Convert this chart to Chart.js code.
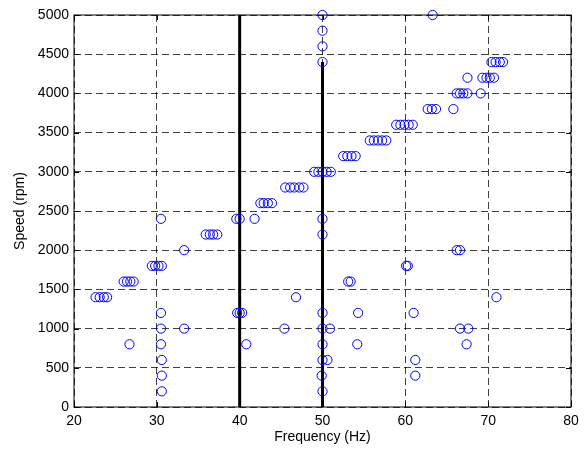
<!DOCTYPE html>
<html>
<head>
<meta charset="utf-8">
<script src="https://cdn.jsdelivr.net/npm/chart.js@4/dist/chart.umd.min.js"></script>
<style>
  body { margin: 0; background: #fff; }
</style>
</head>
<body>
<canvas id="speedChart" width="585" height="450"></canvas>
<script>
// measured points, one line per speed step
var freqHz = [
    30.6, 50.0,
    30.6, 49.9, 61.2,
    30.6, 50.0, 50.6, 61.2,
    26.7, 30.5, 40.8, 50.0, 54.2, 67.4,
    30.5, 33.3, 45.4, 50.0, 50.9, 66.6, 67.6,
    30.5, 39.7, 40.0, 40.3, 50.0, 54.3, 61.0,
    22.6, 23.1, 23.6, 24.0, 46.8, 71.0,
    26.0, 26.4, 26.8, 27.2, 53.1, 53.4,
    29.4, 29.8, 30.2, 30.6, 60.1, 60.3,
    33.3, 66.2, 66.6,
    35.9, 36.4, 36.8, 37.3, 50.0,
    30.5, 39.6, 40.0, 41.8, 50.0,
    42.5, 42.9, 43.4, 43.9,
    45.5, 46.1, 46.6, 47.2, 47.7,
    49.0, 49.5, 50.0, 50.5, 51.0,
    52.5, 53.0, 53.5, 54.0,
    55.7, 56.2, 56.7, 57.2, 57.7,
    58.9, 59.4, 59.9, 60.4, 60.9,
    62.7, 63.2, 63.7, 65.8,
    66.2, 66.6, 67.0, 67.5, 69.1,
    67.5, 69.3, 69.8, 70.2, 70.7,
    50.0, 70.4, 70.9, 71.4, 71.8,
    50.0,
    50.0,
    50.0, 63.3
];
var speedRpm = [
    200, 200,
    400, 400, 400,
    600, 600, 600, 600,
    800, 800, 800, 800, 800, 800,
    1000, 1000, 1000, 1000, 1000, 1000, 1000,
    1200, 1200, 1200, 1200, 1200, 1200, 1200,
    1400, 1400, 1400, 1400, 1400, 1400,
    1600, 1600, 1600, 1600, 1600, 1600,
    1800, 1800, 1800, 1800, 1800, 1800,
    2000, 2000, 2000,
    2200, 2200, 2200, 2200, 2200,
    2400, 2400, 2400, 2400, 2400,
    2600, 2600, 2600, 2600,
    2800, 2800, 2800, 2800, 2800,
    3000, 3000, 3000, 3000, 3000,
    3200, 3200, 3200, 3200,
    3400, 3400, 3400, 3400, 3400,
    3600, 3600, 3600, 3600, 3600,
    3800, 3800, 3800, 3800,
    4000, 4000, 4000, 4000, 4000,
    4200, 4200, 4200, 4200, 4200,
    4400, 4400, 4400, 4400, 4400,
    4600,
    4800,
    5000, 5000
];

// thick reference lines
var markerHz = [40, 50];
var markerTop = [5000, 4400];

var xTicks = [20, 30, 40, 50, 60, 70, 80];
var yTicks = [0, 500, 1000, 1500, 2000, 2500, 3000, 3500, 4000, 4500, 5000];

var points = freqHz.map(function (f, i) {
    return { x: f, y: speedRpm[i] };
});

var markerSets = markerHz.map(function (f, i) {
    return {
        type: 'line',
        data: [{ x: f, y: 0 }, { x: f, y: markerTop[i] }],
        borderColor: '#000',
        borderWidth: 3,
        pointRadius: 0,
        showLine: true,
        fill: false
    };
});

// box round the plot with small inward ticks on every side
var frameBox = {
    id: 'frameBox',
    beforeDatasetsDraw: function (chart) {
        var c = chart.ctx, a = chart.chartArea;
        var sx = chart.scales.x, sy = chart.scales.y;
        c.save();
        c.strokeStyle = '#000';
        c.lineWidth = 1;
        c.setLineDash([]);
        c.strokeRect(a.left, a.top, a.right - a.left, a.bottom - a.top);
        c.beginPath();
        xTicks.forEach(function (v) {
            var px = Math.round(sx.getPixelForValue(v)) + 0.5;
            c.moveTo(px, a.bottom); c.lineTo(px, a.bottom - 5);
            c.moveTo(px, a.top); c.lineTo(px, a.top + 5);
        });
        yTicks.forEach(function (v) {
            var py = Math.round(sy.getPixelForValue(v)) + 0.5;
            c.moveTo(a.left, py); c.lineTo(a.left + 5, py);
            c.moveTo(a.right, py); c.lineTo(a.right - 5, py);
        });
        c.stroke();
        c.restore();
    }
};

Chart.defaults.font.family = 'Arial, "Liberation Sans", sans-serif';
Chart.defaults.font.size = 14;
Chart.defaults.color = '#000';

var ctx = document.getElementById('speedChart').getContext('2d');
var myChart = new Chart(ctx, {
    type: 'scatter',
    data: {
        datasets: [{
            data: points,
            pointStyle: 'circle',
            pointRadius: 4.6,
            pointBorderWidth: 1,
            pointBorderColor: '#0000ff',
            pointBackgroundColor: 'rgba(0,0,0,0)',
            clip: false
        }].concat(markerSets)
    },
    options: {
        responsive: false,
        animation: false,
        layout: { padding: { left: 8, right: 14, top: 15, bottom: 0 } },
        plugins: {
            legend: { display: false },
            tooltip: { enabled: false }
        },
        scales: {
            x: {
                type: 'linear',
                min: 20,
                max: 80,
                afterFit: function (s) { s.height = 43; },
                ticks: { stepSize: 10, padding: 6, maxRotation: 0 },
                grid: { color: 'rgba(0,0,0,0.75)', lineWidth: 1, drawTicks: false },
                border: { display: false, dash: [7, 4] },
                title: { display: true, text: 'Frequency (Hz)', padding: { top: 2, bottom: 4 } }
            },
            y: {
                type: 'linear',
                min: 0,
                max: 5000,
                afterFit: function (s) { s.width = 66; },
                ticks: {
                    stepSize: 500,
                    padding: 5,
                    callback: function (v) { return String(v); }
                },
                grid: { color: 'rgba(0,0,0,0.75)', lineWidth: 1, drawTicks: false },
                border: { display: false, dash: [7, 4] },
                title: { display: true, text: 'Speed (rpm)', padding: { top: 4, bottom: 4 } }
            }
        }
    },
    plugins: [frameBox]
});
</script>
</body>
</html>
